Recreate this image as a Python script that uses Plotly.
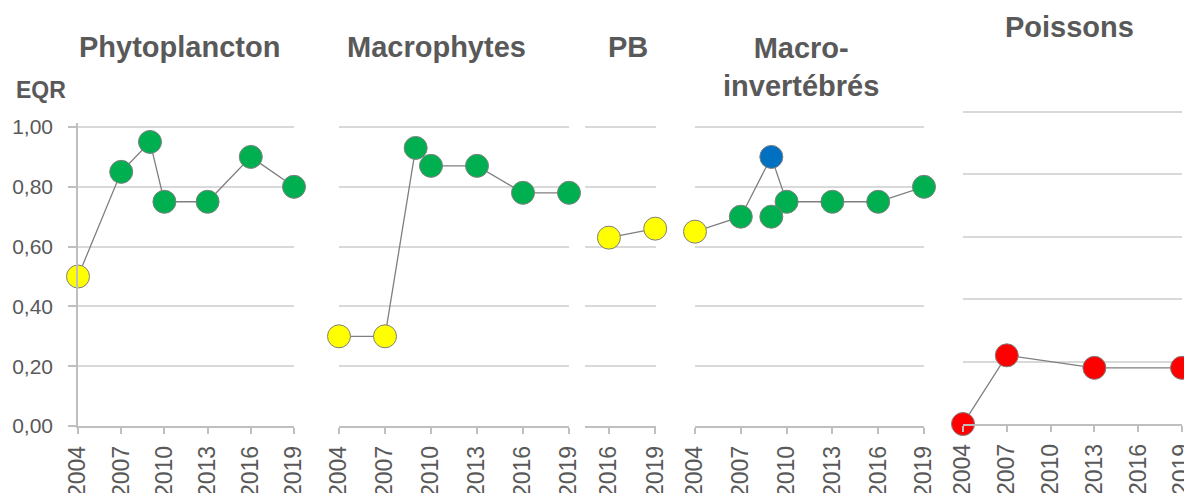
import plotly.graph_objects as go

# ---------------- data ----------------
phyto_years = [2004, 2007, 2009, 2010, 2013, 2016, 2019]
phyto_vals = [0.50, 0.85, 0.95, 0.75, 0.75, 0.90, 0.80]
phyto_class = ["moyen", "bon", "bon", "bon", "bon", "bon", "bon"]

macroph_years = [2004, 2007, 2009, 2010, 2013, 2016, 2019]
macroph_vals = [0.30, 0.30, 0.93, 0.87, 0.87, 0.78, 0.78]
macroph_class = ["moyen", "moyen", "bon", "bon", "bon", "bon", "bon"]

pb_years = [2016, 2019]
pb_vals = [0.63, 0.66]
pb_class = ["moyen", "moyen"]

inv_years = [2004, 2007, 2009, 2010, 2013, 2016, 2019]
inv_vals = [0.65, 0.70, 0.90, 0.75, 0.75, 0.75, 0.80]
inv_class = ["moyen", "bon", "très bon", "bon", "bon", "bon", "bon"]
inv_extra_years = [2009]
inv_extra_vals = [0.70]
inv_extra_class = ["bon"]

poiss_years = [2004, 2007, 2013, 2019]
poiss_vals = [0.00, 0.22, 0.18, 0.18]
poiss_class = ["mauvais", "mauvais", "mauvais", "mauvais"]

titles = ["Phytoplancton", "Macrophytes", "PB", "Macro-<br>invertébrés", "Poissons"]
y_ticks = [0, 0.2, 0.4, 0.6, 0.8, 1.0]
y_ticktext = ["0,00", "0,20", "0,40", "0,60", "0,80", "1,00"]
x_ticks_full = [2004, 2007, 2010, 2013, 2016, 2019]
x_ticks_pb = [2016, 2019]

# ---------------- styles ----------------
CLASS_COLORS = {"très bon": "#0070C0", "bon": "#00B050", "moyen": "#FFFF00",
                "mauvais": "#FF0000"}
OFF = 8                      # default page body margin
W, H = 1192 - OFF, 493 - OFF
FONT = "Arial, Liberation Sans, sans-serif"
TXT = "#595959"
GRID = "#D9D9D9"
AXL = "#BFBFBF"


def px_x(p):
    return (p - OFF) / W


def px_y(p):
    return 1 - (p - OFF) / H


fig = go.Figure()

# panel geometry (page pixel coordinates)
panels = [
    dict(x0=78, x1=294, y0=426, y1=127, rng=[2004, 2019], ticks=x_ticks_full),
    dict(x0=339, x1=569, y0=426, y1=127, rng=[2004, 2019], ticks=x_ticks_full),
    dict(x0=585, x1=656, y0=426, y1=127, rng=[2014.45, 2019.05], ticks=x_ticks_pb),
    dict(x0=695, x1=924, y0=426, y1=127, rng=[2004, 2019], ticks=x_ticks_full),
    dict(x0=963, x1=1182, y0=424, y1=112, rng=[2004, 2019], ticks=x_ticks_full),
]

series = [
    [(phyto_years, phyto_vals, phyto_class, True)],
    [(macroph_years, macroph_vals, macroph_class, True)],
    [(pb_years, pb_vals, pb_class, True)],
    [(inv_years, inv_vals, inv_class, True),
     (inv_extra_years, inv_extra_vals, inv_extra_class, False)],
    [(poiss_years, poiss_vals, poiss_class, True)],
]

YTOP = 1.012
for i, (pan, ser) in enumerate(zip(panels, series), start=1):
    sfx = "" if i == 1 else str(i)
    for xs, ys, cls, connect in ser:
        fig.add_trace(go.Scatter(
            x=xs, y=ys,
            mode="lines+markers" if connect else "markers",
            line=dict(color="#7F7F7F", width=1.3),
            marker=dict(size=23, color=[CLASS_COLORS[c] for c in cls],
                        line=dict(color="#7F7F7F", width=1)),
            cliponaxis=False, showlegend=False, hoverinfo="x+y",
            xaxis="x" + sfx, yaxis="y" + sfx,
        ))
    ytop_px = pan["y0"] - (pan["y0"] - pan["y1"]) * YTOP
    fig.layout["xaxis" + sfx] = dict(
        domain=[px_x(pan["x0"]), px_x(pan["x1"])], anchor="y" + sfx,
        range=pan["rng"], tickvals=pan["ticks"],
        ticktext=[str(t) for t in pan["ticks"]],
        tickangle=-90, showgrid=False, zeroline=False,
        showline=True, linecolor=AXL, linewidth=1.5,
        ticks="outside", ticklen=6, tickcolor=AXL, tickwidth=1.5,
        ticklabelstandoff=3, ticklabeloverflow="allow",
        tickfont=dict(family=FONT, size=23, color=TXT), automargin=False,
    )
    fig.layout["yaxis" + sfx] = dict(
        domain=[px_y(pan["y0"]), px_y(ytop_px)], anchor="x" + sfx,
        range=[0, YTOP], tickvals=y_ticks, ticktext=y_ticktext,
        showticklabels=(i == 1), showgrid=True, gridcolor=GRID, gridwidth=1.5,
        zeroline=False, showline=(i == 1), linecolor=AXL, linewidth=1.5,
        ticks="outside" if i == 1 else "", ticklen=8, tickcolor=AXL, tickwidth=1.5,
        ticklabelstandoff=11,
        tickfont=dict(family=FONT, size=21, color=TXT), automargin=False,
    )

# panel titles
title_pos = [(180, 47), (436, 47), (628, 47), (801, 67), (1069, 27)]
for t, (cx, cy) in zip(titles, title_pos):
    fig.add_annotation(text="<b>%s</b>" % t, x=px_x(cx), y=px_y(cy),
                       xref="paper", yref="paper", showarrow=False,
                       xanchor="center", yanchor="middle",
                       font=dict(family=FONT, size=29, color=TXT))

fig.add_annotation(text="<b>EQR</b>", x=px_x(41), y=px_y(90),
                   xref="paper", yref="paper", showarrow=False,
                   xanchor="center", yanchor="middle",
                   font=dict(family=FONT, size=23, color=TXT))

fig.update_layout(
    width=W, height=H, template="none",
    margin=dict(l=0, r=0, t=0, b=0),
    paper_bgcolor="white", plot_bgcolor="white",
)

fig.write_html("out.html")
